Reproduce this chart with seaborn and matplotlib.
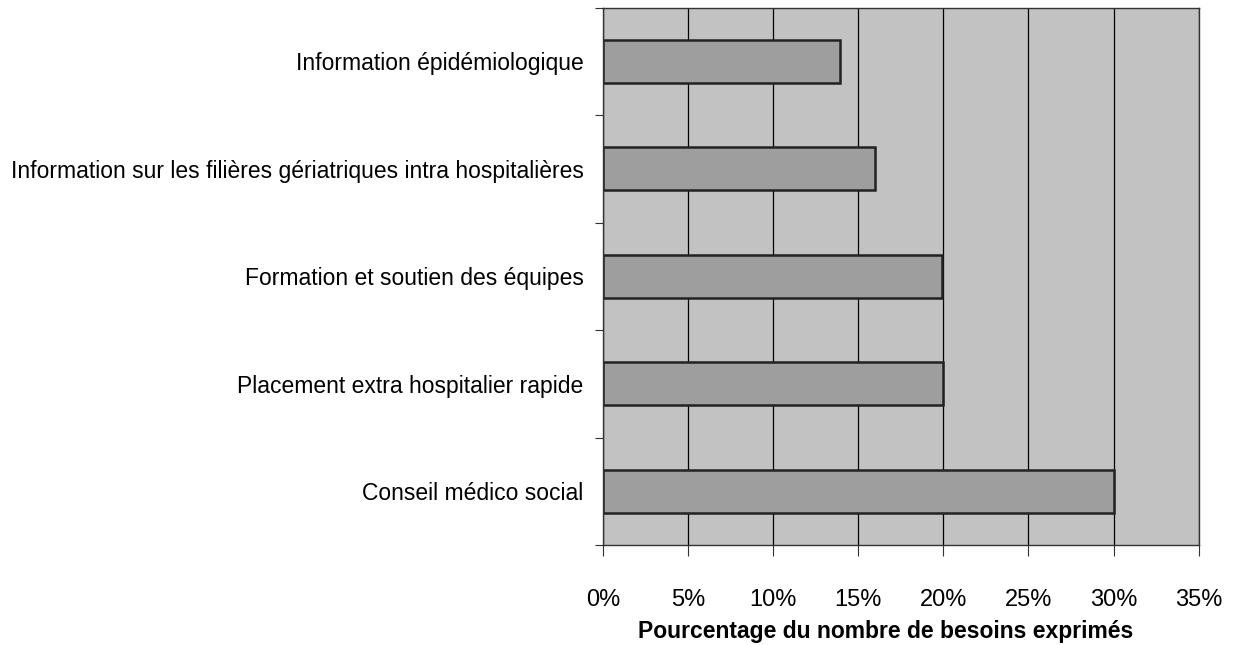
#!/usr/bin/env python3

import pandas as pd
import numpy as np
import seaborn as sns
import matplotlib.pyplot as plt
from matplotlib.ticker import FixedLocator, PercentFormatter

categories = ['Information épidémiologique',
              'Information sur les filières gériatriques intra hospitalières',
              'Formation et soutien des équipes',
              'Placement extra hospitalier rapide',
              'Conseil médico social']
values = [13.9, 16.0, 19.9, 20.0, 30.0]
xticks = [0, 5, 10, 15, 20, 25, 30, 35]

df = pd.DataFrame({'besoin': categories, 'pct': values})

sns.set_style('ticks')
plt.rcParams['font.family'] = ['Liberation Sans', 'DejaVu Sans']
plt.rcParams['text.color'] = 'black'
plt.rcParams['xtick.labelcolor'] = 'black'
plt.rcParams['ytick.labelcolor'] = 'black'
plt.rcParams['axes.labelcolor'] = 'black'

fig = plt.figure(figsize=(12.46, 6.45), dpi=100)
ax = fig.add_axes([0.484, 0.155, 0.478, 0.833])

ax.set_facecolor('#c2c2c2')
ax.set_axisbelow(True)
ax.grid(axis='x', color='black', linewidth=0.9)

sns.barplot(data=df, x='pct', y='besoin', orient='h', color='#9e9e9e',
            edgecolor='#222222', linewidth=1.8, width=0.4, saturation=1,
            errorbar=None, ax=ax)

# X-axis
ax.set_xlim(0, 35)
ax.set_xticks(xticks)
ax.xaxis.set_major_formatter(PercentFormatter(decimals=0))
ax.tick_params(axis='x', direction='out', length=8, width=0.8,
               labelsize=17, pad=24, color='#333333')
ax.set_xlabel('Pourcentage du nombre de besoins exprimés',
              fontsize=16.5, fontweight='bold')
ax.xaxis.set_label_coords(0.475, -0.14)

# Y-axis
ax.set_ylim(len(categories) - 0.5, -0.5)
ax.set_ylabel('')
ax.tick_params(axis='y', which='major', length=0, labelsize=16.5, pad=14)
ax.yaxis.set_minor_locator(FixedLocator(np.arange(-0.5, len(categories), 1.0)))
ax.tick_params(axis='y', which='minor', direction='out', length=6,
               width=0.8, color='#333333')

for s in ax.spines.values():
    s.set_color('#333333')
    s.set_linewidth(1.0)

plt.savefig('out.png', dpi=100)
